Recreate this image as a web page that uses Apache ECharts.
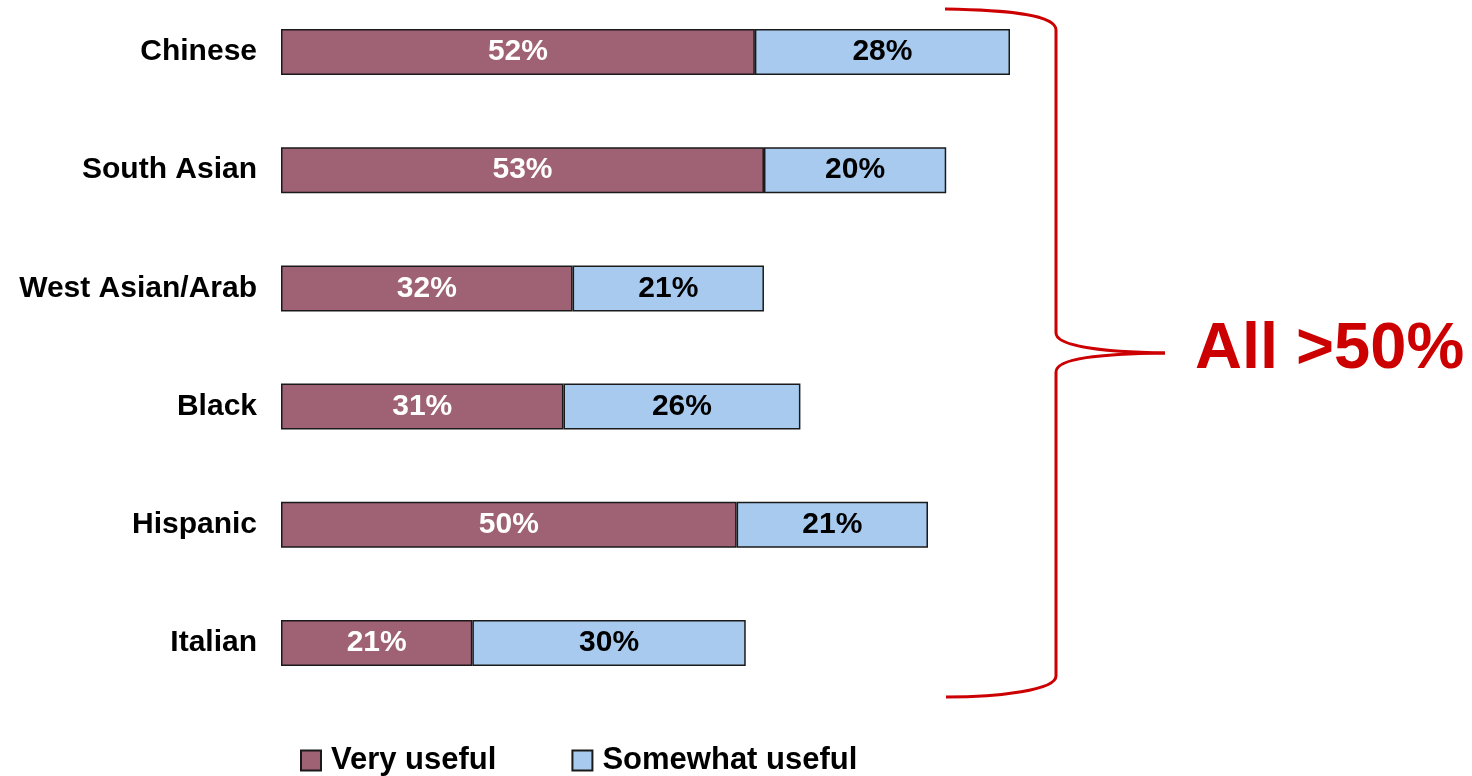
<!DOCTYPE html>
<html>
<head>
<meta charset="utf-8">
<script src="https://cdn.jsdelivr.net/npm/echarts@6/dist/echarts.min.js"></script>
<style>
html,body{margin:0;padding:0;background:#fff;}
#chart{width:1472px;height:776px;}
</style>
</head>
<body>
<div id="chart"></div>
<script>
const categories = ['Chinese', 'South Asian', 'West Asian/Arab', 'Black', 'Hispanic', 'Italian'];
const veryUseful = [52, 53, 32, 31, 50, 21];
const somewhatUseful = [28, 20, 21, 26, 21, 30];
const seriesNames = ['Very useful', 'Somewhat useful'];
const annotationText = 'All >50%';

const FONT = '"Liberation Sans", Arial, sans-serif';
const chart = echarts.init(document.getElementById('chart'), null, {renderer: 'canvas'});

const red = '#cc0000';
const braceStyle = {fill: null, stroke: red, lineWidth: 3};
function bez(x1, y1, c1x, c1y, c2x, c2y, x2, y2) {
  return {type: 'bezierCurve', silent: true,
    shape: {x1: x1, y1: y1, cpx1: c1x, cpy1: c1y, cpx2: c2x, cpy2: c2y, x2: x2, y2: y2},
    style: braceStyle};
}
function seg(x1, y1, x2, y2) {
  return {type: 'line', silent: true, shape: {x1: x1, y1: y1, x2: x2, y2: y2}, style: braceStyle};
}

chart.setOption({
  animation: false,
  grid: {left: 281, right: 462, top: 52, height: 591, containLabel: false},
  xAxis: {type: 'value', min: 0, max: 80, show: false},
  yAxis: {
    type: 'category', data: categories, inverse: true, boundaryGap: false,
    axisLine: {show: false}, axisTick: {show: false}, splitLine: {show: false},
    axisLabel: {fontFamily: FONT, fontWeight: 'bold', fontSize: 30, color: '#000', margin: 24}
  },
  legend: {
    left: 295, top: 740, itemWidth: 20, itemHeight: 20, itemGap: 75,
    icon: 'rect',
    textStyle: {fontFamily: FONT, fontWeight: 'bold', fontSize: 31, color: '#000', padding: [0, 0, 0, 5]},
    data: seriesNames
  },
  series: [
    {
      name: seriesNames[0], type: 'bar', stack: 'total', data: veryUseful, barWidth: 46,
      itemStyle: {color: '#9f6174', borderColor: '#1a1a1a', borderWidth: 1.5},
      label: {show: true, position: 'inside', formatter: '{c}%', fontFamily: FONT, fontWeight: 'bold', fontSize: 30, color: '#fff'}
    },
    {
      name: seriesNames[1], type: 'bar', stack: 'total', data: somewhatUseful, barWidth: 46,
      itemStyle: {color: '#a7caee', borderColor: '#1a1a1a', borderWidth: 1.5},
      label: {show: true, position: 'inside', formatter: '{c}%', fontFamily: FONT, fontWeight: 'bold', fontSize: 30, color: '#000'}
    }
  ],
  graphic: [
    bez(945, 9, 1005, 10, 1056, 14, 1056, 30),
    seg(1056, 30, 1056, 333),
    bez(1056, 333, 1056, 346, 1100, 352, 1165, 353),
    bez(1165, 353, 1100, 354, 1056, 358, 1056, 372),
    seg(1056, 372, 1056, 676),
    bez(1056, 676, 1056, 690, 1000, 697, 946, 697),
    {type: 'text', left: 1195, top: 318, style: {text: annotationText, fill: red, font: 'bold 65px ' + FONT}}
  ]
});
</script>
</body>
</html>
